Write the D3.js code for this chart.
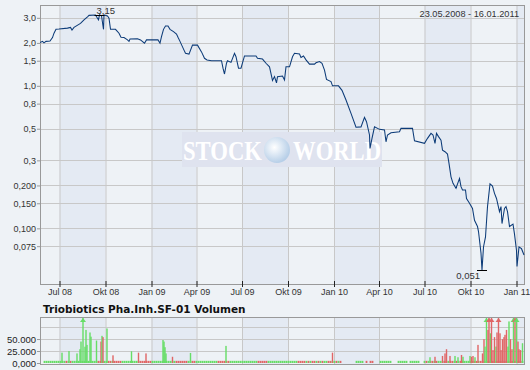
<!DOCTYPE html>
<html>
<head>
<meta charset="utf-8">
<script src="https://cdn.jsdelivr.net/npm/d3@7"></script>
<style>
  body { margin: 0; background: #eef2f6; }
  svg { display: block; font-family: "Liberation Sans", Arial, sans-serif; }
</style>
</head>
<body>
<svg id="chart" width="530" height="370"></svg>
<script>
// price series (log scale)
var priceDates = [
  "2008-05-23","2008-05-28","2008-05-31","2008-06-04","2008-06-12","2008-06-17","2008-06-20","2008-06-24","2008-06-30",
  "2008-07-17","2008-07-23","2008-07-26","2008-07-30","2008-08-12","2008-08-19","2008-08-26","2008-08-29",
  "2008-09-11","2008-09-17","2008-09-19","2008-09-23","2008-09-27","2008-09-28","2008-10-05","2008-10-08","2008-10-11",
  "2008-10-21","2008-10-28","2008-11-01","2008-11-07","2008-11-14","2008-11-17","2008-11-19","2008-12-04","2008-12-10",
  "2008-12-18","2008-12-22",
  "2009-01-14","2009-01-18","2009-01-21","2009-01-25","2009-01-29","2009-02-03","2009-02-07","2009-02-14","2009-02-20",
  "2009-02-23","2009-02-27","2009-03-07","2009-03-10","2009-03-17","2009-03-24","2009-04-03","2009-04-11","2009-04-17",
  "2009-04-22","2009-05-01","2009-05-21","2009-05-24","2009-05-27","2009-05-31","2009-06-02","2009-06-09","2009-06-16",
  "2009-06-19","2009-06-24","2009-06-29","2009-07-02","2009-07-06","2009-07-29","2009-08-01","2009-08-11","2009-08-18",
  "2009-08-25","2009-08-28","2009-08-31","2009-09-04","2009-09-08","2009-09-10","2009-09-20","2009-09-24","2009-09-27",
  "2009-10-04","2009-10-10","2009-10-14","2009-10-24","2009-10-27","2009-11-01","2009-11-06","2009-11-13","2009-11-23",
  "2009-11-26","2009-12-03","2009-12-08","2009-12-13","2009-12-17","2009-12-26","2009-12-29",
  "2010-01-10","2010-01-17","2010-01-25","2010-02-04","2010-02-14","2010-02-24","2010-03-03","2010-03-07","2010-03-13",
  "2010-03-14","2010-03-18","2010-03-23","2010-04-02","2010-04-12","2010-04-15","2010-04-18","2010-04-25","2010-05-12",
  "2010-05-15","2010-06-07","2010-06-11","2010-07-01","2010-07-07","2010-07-14","2010-07-18","2010-07-22","2010-07-25",
  "2010-07-29","2010-08-03","2010-08-06","2010-08-11","2010-08-16","2010-08-19","2010-08-23","2010-08-27","2010-09-02",
  "2010-09-09","2010-09-12","2010-09-15","2010-09-21","2010-09-23","2010-09-29","2010-10-05","2010-10-09","2010-10-15",
  "2010-10-17","2010-10-22","2010-10-24","2010-10-27","2010-10-31","2010-11-04","2010-11-09","2010-11-14","2010-11-18",
  "2010-11-22","2010-11-28","2010-12-01","2010-12-03","2010-12-08","2010-12-11","2010-12-14","2010-12-18","2010-12-25",
  "2010-12-28","2011-01-01","2011-01-02","2011-01-06","2011-01-11","2011-01-16"
];
var priceValues = [
  2.01,2.05,2.00,2.05,2.06,2.18,2.34,2.49,2.50,
  2.54,2.57,2.46,2.57,2.74,2.90,3.05,3.12,
  3.14,2.90,3.15,3.10,2.49,3.14,3.09,2.98,2.49,
  2.49,2.34,2.19,2.18,2.10,2.05,2.13,2.14,2.10,
  1.99,2.10,
  2.10,1.99,2.21,2.49,2.63,2.63,2.49,2.40,2.31,
  2.19,2.05,1.78,1.69,1.67,1.93,1.93,1.73,1.56,
  1.52,1.50,1.50,1.33,1.21,1.44,1.50,1.46,1.69,
  1.60,1.33,1.33,1.45,1.62,1.62,1.56,1.54,1.44,
  1.36,1.22,1.09,1.16,1.05,1.16,1.17,1.10,1.36,
  1.36,1.60,1.69,1.67,1.58,1.62,1.52,1.42,1.42,
  1.45,1.48,1.44,1.29,1.11,1.07,1.00,
  1.00,0.93,0.795,0.641,0.512,0.515,0.60,0.56,0.452,
  0.364,0.428,0.516,0.495,0.49,0.405,0.452,0.469,0.476,
  0.503,0.503,0.412,0.395,0.428,0.464,0.452,0.395,0.464,
  0.44,0.416,0.354,0.345,0.332,0.286,0.230,0.207,0.191,
  0.224,0.196,0.186,0.186,0.162,0.150,0.138,0.114,0.103,
  0.095,0.067,0.051,0.074,0.087,0.142,0.205,0.198,0.176,
  0.162,0.131,0.142,0.108,0.138,0.142,0.131,0.103,0.107,
  0.091,0.070,0.054,0.074,0.072,0.065
];

var yTicks = [3, 2, 1.5, 1, 0.75, 0.5, 0.3, 0.2, 0.15, 0.1, 0.075];
var yTickLabels = ["3,0","2,0","1,5","1,0","0,8","0,5","0,3","0,200","0,150","0,100","0,075"];

var xTickDates = ["2008-07-01","2008-10-01","2009-01-01","2009-04-01","2009-07-01","2009-10-01",
                  "2010-01-01","2010-04-01","2010-07-01","2010-10-01","2011-01-01"];
var xTickLabels = ["Jul 08","Okt 08","Jan 09","Apr 09","Jul 09","Okt 09","Jan 10","Apr 10","Jul 10","Okt 10","Jan 11"];
var bandStarts = ["2008-07-01","2009-01-01","2009-07-01","2010-01-01","2010-07-01","2011-01-01"];

var dateFrom = "2008-05-23";
var dateTo = "2011-01-18";
var rangeLabel = "23.05.2008 - 16.01.2011";
var volumeTitle = "Triobiotics Pha.Inh.SF-01 Volumen";

var volTicks = [0, 25000, 50000];
var volTickLabels = ["0,000", "25.000", "50.000"];
var volGrid = [25000, 50000, 75000];

// larger volume bars: date, volume, up(1)/down(0); 130000 = off scale (arrow)
var volDates = [
  "2008-07-06","2008-07-20","2008-08-05","2008-08-11","2008-08-13","2008-08-17","2008-08-21","2008-08-23","2008-08-25",
  "2008-08-31","2008-09-02","2008-09-13","2008-09-22","2008-09-24","2008-09-26","2008-10-04","2008-10-16","2008-11-22",
  "2008-12-06","2008-12-21","2009-01-24","2009-01-26","2009-01-28","2009-01-30","2009-02-12","2009-03-20","2009-05-30",
  "2009-12-29",
  "2010-07-12","2010-07-22","2010-08-06","2010-08-11","2010-08-14","2010-08-21","2010-08-31","2010-09-06","2010-09-13",
  "2010-09-16","2010-09-30","2010-10-03","2010-10-06","2010-10-10","2010-10-16","2010-10-25","2010-10-28","2010-10-30",
  "2010-11-02","2010-11-05","2010-11-07","2010-11-10","2010-11-12","2010-11-15","2010-11-18","2010-11-21","2010-11-23",
  "2010-11-26","2010-11-29","2010-12-01","2010-12-04","2010-12-07","2010-12-09","2010-12-12","2010-12-15","2010-12-17",
  "2010-12-20","2010-12-23","2010-12-26","2010-12-29","2011-01-01","2011-01-04","2011-01-06","2011-01-09","2011-01-13"
];
var volValues = [
  21600,25000,20000,28800,44800,130000,34000,69000,37800,
  63700,55000,46800,44700,56700,54000,72000,16000,24500,
  21600,20000,48000,44700,33000,20000,13000,21000,35700,
  21600,
  12000,13000,14700,20000,28800,14700,14700,12000,16800,
  13000,14700,13000,14700,12000,37800,20000,49700,34300,
  130000,69000,130000,62000,130000,27000,54000,34300,63700,
  130000,62000,27000,49700,54000,58800,69000,34300,86800,
  49700,28800,130000,130000,130000,44800,28800,27000,41300
];
var volUp = [
  1,1,1,1,1,1,1,1,1,
  1,1,1,0,1,0,1,0,1,
  0,0,1,1,1,1,0,1,1,
  0,
  1,0,0,0,0,0,1,1,0,
  1,1,0,0,1,0,0,0,1,
  1,0,0,1,0,0,0,1,0,
  0,0,0,0,0,0,0,1,1,
  0,0,1,0,1,0,0,0,1
];
// small baseline bars, one character per 4 days from dateFrom: g = up, r = down, . = none
var volSmall =
  ".." + "gggggggggggrg" + "rgggggggggggggrr" + "gggrrgrrrrggggg" + "ggggrrrrrrggggg" +
  "gggggggrrrrrrgg" + "rrgggggggggggrr" + "rrrrgggggggggggg" + "ggrrrrrgggggggg" +
  "gggggggrrrrgrgr" + "rgrgrggrrggrgr" + "......." + "gggg" + ".r.rr" + "..." + "gggggg" + "..." +
  "ggggg" + "." + "ggggg" + ".." + "grgrrgrgggrrgrrgrgrrgggrgrrgrrgggrrgrrrgrgrrrgrgrg";
var volSmallValue = 4500;

var parse = d3.timeParse("%Y-%m-%d");
var fmt = d3.formatLocale({decimal: ",", thousands: ".", grouping: [3], currency: ["", ""]});

var svg = d3.select("#chart");
var plot = {left: 40, right: 525, top: 5, bottom: 284};
var vbox = {top: 317, bottom: 365};

var x = d3.scaleTime().domain([parse(dateFrom), parse(dateTo)]).range([plot.left, plot.right]);
var y = d3.scaleLog().domain([0.0407, 3.69]).range([plot.bottom, plot.top]);
var yv = d3.scaleLinear().domain([0, 96000]).range([363, vbox.top]);

var prices = priceDates.map(function (d, i) { return {date: parse(d), v: priceValues[i]}; });

function bands(top, bottom) {
  svg.append("g").selectAll("rect").data(bandStarts).enter().append("rect")
    .attr("x", function (d) { return x(parse(d)); })
    .attr("y", top)
    .attr("width", function (d) {
      var end = d3.min([d3.timeMonth.offset(parse(d), 3), parse(dateTo)]);
      return x(end) - x(parse(d));
    })
    .attr("height", bottom - top)
    .attr("fill", "#e4eaf3");
}

function vgrid(top, bottom) {
  svg.append("g").selectAll("line").data(xTickDates).enter().append("line")
    .attr("x1", function (d) { return x(parse(d)) + 0.5; })
    .attr("x2", function (d) { return x(parse(d)) + 0.5; })
    .attr("y1", top).attr("y2", bottom)
    .attr("stroke", "#c8c8c8");
}

// ---------- main price panel ----------
bands(plot.top, plot.bottom);
vgrid(plot.top, plot.bottom);

svg.append("g").selectAll("line").data(yTicks).enter().append("line")
  .attr("x1", plot.left).attr("x2", plot.right)
  .attr("y1", function (d) { return Math.round(y(d)) + 0.5; })
  .attr("y2", function (d) { return Math.round(y(d)) + 0.5; })
  .attr("stroke", "#c8c8c8");

// watermark
var wm = svg.append("g");
var grad = svg.append("defs").append("radialGradient").attr("id", "globe")
  .attr("cx", "40%").attr("cy", "40%").attr("r", "60%");
grad.append("stop").attr("offset", "0%").attr("stop-color", "#ffffff");
grad.append("stop").attr("offset", "100%").attr("stop-color", "#b7cfe8");
wm.append("rect").attr("x", 182).attr("y", 132).attr("width", 200).attr("height", 35).attr("fill", "#dfe3ef");
wm.append("text").attr("x", 183).attr("y", 160).text("STOCK")
  .attr("font-family", "Liberation Serif, serif").attr("font-weight", "bold").attr("font-size", 27)
  .attr("fill", "#ffffff").attr("textLength", 79).attr("lengthAdjust", "spacingAndGlyphs");
wm.append("circle").attr("cx", 277).attr("cy", 150).attr("r", 13).attr("fill", "url(#globe)");
wm.append("text").attr("x", 293).attr("y", 160).text("WORLD")
  .attr("font-family", "Liberation Serif, serif").attr("font-weight", "bold").attr("font-size", 27)
  .attr("fill", "#ffffff").attr("textLength", 88).attr("lengthAdjust", "spacingAndGlyphs");

// frame
svg.append("rect").attr("x", plot.left + 0.5).attr("y", plot.top + 0.5)
  .attr("width", plot.right - plot.left - 1).attr("height", plot.bottom - plot.top)
  .attr("fill", "none").attr("stroke", "#999");

// axes
var yAxis = svg.append("g").attr("transform", "translate(" + plot.left + ",0)")
  .call(d3.axisLeft(y).tickValues(yTicks).tickFormat(function (d, i) { return yTickLabels[i]; })
    .tickSize(3).tickPadding(1));
yAxis.select(".domain").remove();
yAxis.selectAll("line").attr("stroke", "#999");
yAxis.selectAll("text").attr("font-size", 9).attr("fill", "#333").attr("font-family", null);

var xAxis = svg.append("g").attr("transform", "translate(0," + (plot.bottom - 3) + ")")
  .call(d3.axisBottom(x).tickValues(xTickDates.map(parse)).tickFormat(function (d, i) { return xTickLabels[i]; })
    .tickSize(6).tickPadding(2));
xAxis.select(".domain").remove();
xAxis.selectAll("line").attr("stroke", "#222");
xAxis.selectAll("text").attr("font-size", 9).attr("fill", "#333").attr("font-family", null);

// price line
svg.append("clipPath").attr("id", "clipMain").append("rect")
  .attr("x", plot.left).attr("y", plot.top).attr("width", plot.right - plot.left).attr("height", plot.bottom - plot.top);
var line = d3.line().x(function (d) { return x(d.date); }).y(function (d) { return y(d.v); });
svg.append("path").datum(prices).attr("d", line).attr("clip-path", "url(#clipMain)")
  .attr("fill", "none").attr("stroke", "#0c3b78").attr("stroke-width", 1.05);

// high / low markers
var hi = prices.reduce(function (a, b) { return b.v > a.v ? b : a; });
var lo = prices.reduce(function (a, b) { return b.v < a.v ? b : a; });
[hi, lo].forEach(function (p) {
  svg.append("line").attr("x1", x(p.date) - 5).attr("x2", x(p.date) + 5)
    .attr("y1", Math.round(y(p.v)) + 0.5).attr("y2", Math.round(y(p.v)) + 0.5)
    .attr("stroke", "#000").attr("stroke-width", 1);
});
svg.append("text").attr("x", x(hi.date) - 3).attr("y", y(hi.v) - 1)
  .attr("font-size", 9.5).attr("fill", "#333").text(fmt.format(".2f")(hi.v));
svg.append("text").attr("x", x(lo.date) - 2).attr("y", y(lo.v) + 9).attr("text-anchor", "end")
  .attr("font-size", 9.5).attr("fill", "#333").text(fmt.format(".3f")(lo.v));

// range label
svg.append("text").attr("x", 519).attr("y", 16.5).attr("text-anchor", "end")
  .attr("font-size", 9.2).attr("fill", "#333").text(rangeLabel);

// ---------- volume panel ----------
svg.append("text").attr("x", 43).attr("y", 313).text(volumeTitle)
  .attr("font-family", "DejaVu Sans, sans-serif").attr("font-weight", "bold").attr("font-size", 10.5)
  .attr("fill", "#111");

bands(vbox.top, vbox.bottom);
vgrid(vbox.top, vbox.bottom);
svg.append("g").selectAll("line").data(volGrid).enter().append("line")
  .attr("x1", plot.left).attr("x2", plot.right)
  .attr("y1", function (d) { return Math.round(yv(d)) + 0.5; })
  .attr("y2", function (d) { return Math.round(yv(d)) + 0.5; })
  .attr("stroke", "#c8c8c8");

var small = [];
volSmall.split("").forEach(function (c, i) {
  if (c === ".") return;
  small.push({date: d3.timeDay.offset(parse(dateFrom), i * 4 + 1), v: volSmallValue, up: c === "g"});
});
var big = volDates.map(function (d, i) { return {date: parse(d), v: volValues[i], up: volUp[i] === 1}; });

svg.append("clipPath").attr("id", "clipVol").append("rect")
  .attr("x", plot.left).attr("y", vbox.top).attr("width", plot.right - plot.left).attr("height", vbox.bottom - vbox.top);

var vg = svg.append("g").attr("clip-path", "url(#clipVol)");
vg.selectAll("rect.s").data(small).enter().append("rect").attr("class", "s")
  .attr("x", function (d) { return x(d.date) - 0.9; })
  .attr("width", 1.8)
  .attr("y", function (d) { return yv(d.v); })
  .attr("height", function (d) { return yv(0) - yv(d.v); })
  .attr("fill", function (d) { return d.up ? "#66dd66" : "#e06666"; });
vg.selectAll("rect.b").data(big).enter().append("rect").attr("class", "b")
  .attr("x", function (d) { return x(d.date) - 0.7; })
  .attr("width", 1.4)
  .attr("y", function (d) { return Math.max(yv(d.v), vbox.top + 1); })
  .attr("height", function (d) { return yv(0) - Math.max(yv(d.v), vbox.top + 1); })
  .attr("fill", function (d) { return d.up ? "#66dd66" : "#e06666"; });
// arrows for off-scale bars
vg.selectAll("path.arrow").data(big.filter(function (d) { return d.v > yv.domain()[1]; })).enter()
  .append("path").attr("class", "arrow")
  .attr("d", function (d) {
    var cx = x(d.date), t = vbox.top + 1;
    return "M" + (cx - 3) + "," + (t + 4) + "L" + cx + "," + t + "L" + (cx + 3) + "," + (t + 4) + "Z";
  })
  .attr("fill", function (d) { return d.up ? "#66dd66" : "#e06666"; });

svg.append("rect").attr("x", plot.left + 0.5).attr("y", vbox.top + 0.5)
  .attr("width", plot.right - plot.left - 1).attr("height", vbox.bottom - vbox.top - 1)
  .attr("fill", "none").attr("stroke", "#999");

var vAxis = svg.append("g").attr("transform", "translate(" + plot.left + ",0)")
  .call(d3.axisLeft(yv).tickValues(volTicks).tickFormat(function (d, i) { return volTickLabels[i]; })
    .tickSize(3).tickPadding(1));
vAxis.select(".domain").remove();
vAxis.selectAll("line").attr("stroke", "#999");
vAxis.selectAll("text").attr("font-size", 9.5).attr("fill", "#222").attr("font-family", null);
</script>
</body>
</html>
